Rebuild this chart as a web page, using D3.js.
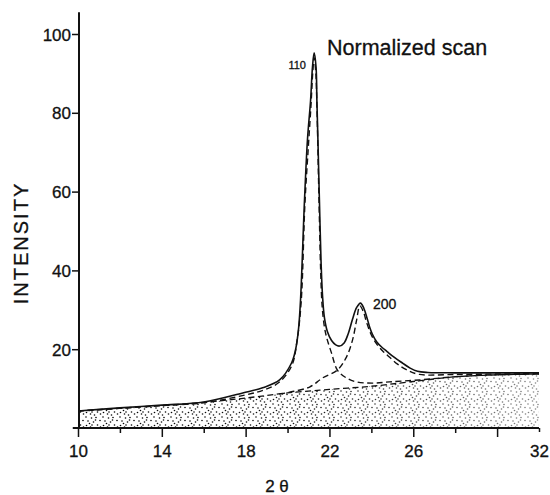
<!DOCTYPE html>
<html>
<head>
<meta charset="utf-8">
<script src="https://cdn.jsdelivr.net/npm/d3@7"></script>
<style>
  html, body { margin: 0; padding: 0; background: #fff; }
  svg { display: block; font-family: "Liberation Sans", Arial, sans-serif; }
  text { stroke: #111; stroke-width: 0.3px; }
</style>
</head>
<body>
<div class="chart"></div>
<script>
// values (2 theta in degrees, intensity in %)
const totalX = [10, 12, 14, 16, 17.86, 18.81, 19.62, 20.19, 20.38, 20.52, 20.62, 20.81, 20.95, 21.1, 21.19, 21.27, 21.36, 21.4, 21.45, 21.52, 21.6, 21.67, 21.76, 21.9, 22.1, 22.3, 22.48, 22.7, 22.9, 23.1, 23.3, 23.48, 23.64, 23.8, 23.92, 24.05, 24.25, 24.5, 24.75, 25.1, 25.48, 25.85, 26.2, 26.7, 28, 30, 32];
const totalY = [4.3, 5.1, 5.8, 6.6, 8.9, 10.2, 12.2, 16.5, 19.8, 24.9, 32.5, 57.9, 73.1, 83.2, 91.6, 95.2, 91.6, 83.2, 73.1, 57.9, 42, 33.5, 28, 24.5, 22.2, 21.1, 20.8, 21.6, 24.0, 27.6, 30.6, 31.7, 30.4, 27.8, 25.6, 23.8, 21.9, 20.5, 19.4, 17.9, 16.5, 15.2, 14.4, 14.1, 14.0, 14.0, 14.0];

const peak110X = [10, 14, 16, 18, 18.9, 19.6, 20.2, 20.45, 20.65, 20.83, 21.0, 21.12, 21.2, 21.27, 21.35, 21.4, 21.5, 21.58, 21.65, 21.75, 21.86, 22.1, 22.38, 22.81, 23.29, 24.05, 24.86, 26.29, 28, 30, 32];
const peak110Y = [4.3, 5.7, 6.4, 8.4, 9.7, 11.6, 15.8, 22, 32, 57, 72, 82, 90, 94, 90, 82, 57.9, 40, 31, 26, 23.1, 19.0, 14.7, 12.7, 11.7, 11.4, 11.7, 12.2, 13.0, 13.5, 13.7];

const peak200X = [19.6, 20.1, 21.05, 21.67, 22.38, 22.81, 23.1, 23.3, 23.45, 23.62, 23.76, 24.0, 24.24, 24.55, 24.86, 25.25, 25.67, 26.29, 28, 30, 32];
const peak200Y = [8.6, 9.1, 10.4, 12.7, 14.7, 18.0, 22.3, 27.5, 31.0, 29.5, 27.0, 23.6, 21.4, 19.5, 18.0, 16.2, 14.8, 13.6, 13.6, 13.7, 13.8];

const bgX = [10, 12, 14, 16, 18, 20, 22, 24, 26, 28, 30, 32];
const bgY = [4.3, 5.0, 5.7, 6.5, 7.6, 8.9, 9.8, 10.6, 11.8, 13.0, 13.5, 13.7];

const xTicks = [10, 12, 14, 16, 18, 20, 22, 24, 26, 28, 30, 32];
const xLabels = [10, 14, 18, 22, 26, 32];
const yTicks = [20, 40, 60, 80, 100];

const width = 550;
const height = 495;

const svg = d3.select('.chart')
    .append('svg')
    .attr('width', width)
    .attr('height', height)

const x = d3.scaleLinear().domain([10, 32]).range([78, 539]);
const y = d3.scaleLinear().domain([0, 100]).range([428, 34]);

const toPts = (xs, ys) => xs.map((v, i) => [v, ys[i]]);

// stipple texture for the background area
const defs = svg.append('defs');
const pat = defs.append('pattern')
    .attr('id', 'stip')
    .attr('patternUnits', 'userSpaceOnUse')
    .attr('width', 17)
    .attr('height', 13);
const dots = [[1,1],[6.5,2],[11,1.5],[15,4.5],[3,5],[8.5,6],[12.5,9],[1.5,9.5],[5.5,11],[9.5,12],[15.5,11],[4.5,7.5],[10.5,4],[7,9]];
pat.selectAll('circle')
    .data(dots)
    .enter()
    .append('circle')
    .attr('cx', d => d[0])
    .attr('cy', d => d[1])
    .attr('r', 0.8)
    .attr('fill', '#000');

const grad = defs.append('linearGradient')
    .attr('id', 'fade')
    .attr('gradientUnits', 'userSpaceOnUse')
    .attr('x1', x(10)).attr('x2', x(32))
    .attr('y1', 0).attr('y2', 0);
grad.append('stop').attr('offset', '0%').attr('stop-color', '#fff');
grad.append('stop').attr('offset', '50%').attr('stop-color', '#e6e6e6');
grad.append('stop').attr('offset', '100%').attr('stop-color', '#777');
defs.append('mask')
    .attr('id', 'fadeMask')
    .append('rect')
    .attr('x', 0).attr('y', 0)
    .attr('width', width).attr('height', height)
    .attr('fill', 'url(#fade)');

const area = d3.area()
    .x(d => x(d[0]))
    .y0(y(0))
    .y1(d => y(d[1]))
    .curve(d3.curveMonotoneX);

svg.append('path')
    .datum(toPts(bgX, bgY))
    .attr('d', area)
    .attr('fill', 'url(#stip)')
    .attr('mask', 'url(#fadeMask)');

const line = d3.line()
    .x(d => x(d[0]))
    .y(d => y(d[1]))
    .curve(d3.curveCatmullRom.alpha(0.5));

// background top edge
svg.append('path')
    .datum(toPts(bgX, bgY))
    .attr('d', line)
    .attr('fill', 'none')
    .attr('stroke', '#111')
    .attr('stroke-width', 1.3)
    .attr('stroke-dasharray', '6,3.5');

// fitted components (dashed)
svg.append('path')
    .datum(toPts(peak200X, peak200Y))
    .attr('d', line)
    .attr('fill', 'none')
    .attr('stroke', '#111')
    .attr('stroke-width', 1.4)
    .attr('stroke-dasharray', '6,3.5');

svg.append('path')
    .datum(toPts(peak110X, peak110Y))
    .attr('d', line)
    .attr('fill', 'none')
    .attr('stroke', '#111')
    .attr('stroke-width', 1.4)
    .attr('stroke-dasharray', '6,3.5');

// measured scan
svg.append('path')
    .datum(toPts(totalX, totalY))
    .attr('d', line)
    .attr('fill', 'none')
    .attr('stroke', '#111')
    .attr('stroke-width', 1.6);

// axes
const xAxis = svg.append('g')
    .attr('transform', 'translate(0,' + y(0) + ')')
    .call(d3.axisBottom(x)
        .tickValues(xTicks)
        .tickSize(0)
        .tickPadding(0)
        .tickFormat(d => xLabels.includes(d) ? d : ''));
xAxis.select('.domain').remove();
xAxis.selectAll('.tick line')
    .attr('y2', d => d === 32 ? 4 : (xLabels.includes(d) || d === 30 ? 9 : 5))
    .attr('stroke', '#111')
    .attr('stroke-width', 1.5);
xAxis.selectAll('.tick text')
    .attr('y', 29)
    .attr('dy', 0)
    .attr('font-size', 17)
    .attr('fill', '#111');

svg.append('line')
    .attr('x1', x(9.75)).attr('x2', x(32))
    .attr('y1', y(0)).attr('y2', y(0))
    .attr('stroke', '#111')
    .attr('stroke-width', 2);

const yAxis = svg.append('g')
    .attr('transform', 'translate(' + (x(10) + 1) + ',0)')
    .call(d3.axisLeft(y)
        .tickValues(yTicks)
        .tickSize(7)
        .tickPadding(1));
yAxis.select('.domain').remove();
yAxis.selectAll('.tick line')
    .attr('stroke', '#111')
    .attr('stroke-width', 1.5);
yAxis.selectAll('.tick text')
    .attr('font-size', 17)
    .attr('dy', '0.36em')
    .attr('fill', '#111');

svg.append('line')
    .attr('x1', x(10) + 1).attr('x2', x(10) + 1)
    .attr('y1', y(0)).attr('y2', y(105.5))
    .attr('stroke', '#111')
    .attr('stroke-width', 2);

// labels
svg.append('text')
    .text('INTENSITY')
    .attr('transform', 'translate(28,243) rotate(-90)')
    .attr('text-anchor', 'middle')
    .attr('font-size', 20)
    .attr('letter-spacing', 2)
    .attr('fill', '#111');

svg.append('text')
    .text('2 θ')
    .attr('x', 277)
    .attr('y', 492)
    .attr('text-anchor', 'middle')
    .attr('font-size', 17)
    .attr('fill', '#111');

svg.append('text')
    .text('Normalized scan')
    .attr('x', 327)
    .attr('y', 55)
    .attr('font-size', 21.5)
    .attr('fill', '#111');

svg.append('text')
    .text('110')
    .attr('x', 306)
    .attr('y', 69)
    .attr('text-anchor', 'end')
    .attr('font-size', 11)
    .attr('fill', '#111');

svg.append('text')
    .text('200')
    .attr('x', 373)
    .attr('y', 309)
    .attr('font-size', 14)
    .attr('fill', '#111');
</script>
</body>
</html>
